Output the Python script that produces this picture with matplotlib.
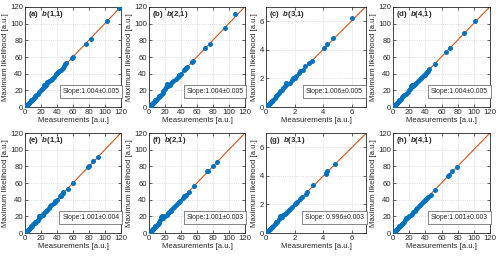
import matplotlib.pyplot as plt

# panel labels, fitted slopes and axis limits
labels = ["(a)", "(b)", "(c)", "(d)", "(e)", "(f)", "(g)", "(h)"]
bases = ["1,1", "2,1", "3,1", "4,1", "1,1", "2,1", "3,1", "4,1"]
slopes = [1.004, 1.004, 1.006, 1.004, 1.001, 1.001, 0.996, 1.001]
slope_texts = ["Slope:1.004\u00b10.005", "Slope:1.004\u00b10.005", "Slope:1.006\u00b10.005",
               "Slope:1.004\u00b10.005", "Slope:1.001\u00b10.004", "Slope:1.001\u00b10.003",
               "Slope: 0.996\u00b10.003", "Slope:1.001\u00b10.003"]
limits = [120, 120, 7, 120, 120, 120, 7, 120]

# measurements (x) and maximum likelihood estimates (y)
meas_a = [118, 103, 82, 76, 60, 59, 51, 50, 49, 48, 45, 43, 41, 40, 39, 36, 34, 32, 30, 28, 27, 26,
          25, 24, 23, 21, 20, 18, 16, 14, 13, 12, 11, 10, 9, 8, 7, 6, 5, 4.5, 4, 3.5, 3, 2.5, 2, 1.5,
          1, 0.5, 0]
ml_a = [119, 103, 81, 76, 60, 59, 53, 51, 49, 47, 44, 43, 42, 41, 40, 36, 34, 33, 31, 29, 30, 27,
        25, 26, 23, 22, 20, 18, 16, 15, 13, 12, 11, 10, 9, 8, 7, 6, 5, 4.5, 4, 3.5, 3, 2.5, 2, 1.5,
        1, 0.5, 0]
meas_b = [108, 95, 76, 70, 55, 54, 47, 46, 45, 44, 40, 38, 37, 36, 34, 30, 28, 26, 24, 23, 22, 21,
          20, 18, 17, 15, 13, 12, 10, 9, 8, 7, 6, 5, 4.5, 4, 3.5, 3, 2.5, 2, 1.5, 1, 0.5, 0]
ml_b = [111, 95, 76, 71, 55, 54, 48, 47, 45, 44, 40, 39, 37, 36, 34, 31, 29, 26, 25, 28, 27, 24,
        22, 19, 17, 15, 13, 12, 10, 9, 8, 7, 6, 5, 4.5, 4, 3.5, 3, 2.5, 2, 1.5, 1, 0.5, 0]
meas_c = [6.0, 4.7, 4.3, 4.05, 3.25, 3.0, 2.7, 2.6, 2.4, 2.3, 2.1, 2.0, 1.9, 1.8, 1.7, 1.5, 1.4,
          1.3, 1.2, 1.1, 1.0, 0.9, 0.8, 0.7, 0.6, 0.5, 0.45, 0.4, 0.35, 0.3, 0.25, 0.2, 0.15, 0.1,
          0.05, 0]
ml_c = [6.2, 4.8, 4.4, 4.15, 3.2, 3.1, 2.9, 2.6, 2.5, 2.4, 2.2, 2.05, 2.0, 1.9, 1.65, 1.6, 1.65,
        1.5, 1.3, 1.2, 1.1, 0.95, 0.85, 0.75, 0.65, 0.5, 0.45, 0.4, 0.35, 0.3, 0.25, 0.2, 0.15, 0.1,
        0.05, 0]
meas_d = [101, 88, 71, 66, 52, 44, 43, 42, 41, 40, 38, 36, 35, 34, 31, 29, 27, 26, 25, 23, 22, 21,
          20, 18, 16, 14, 12, 11, 10, 9, 8, 7, 6, 5, 4.5, 4, 3.5, 3, 2.5, 2, 1.5, 1, 0.5, 0]
ml_d = [103, 89, 71, 66, 51, 45, 43, 42, 41, 39, 38, 36, 35, 34, 31, 29, 28, 26, 25, 26, 25, 22,
        20, 18, 16, 14, 13, 12, 10, 9, 8, 7, 6, 5, 4.5, 4, 3.5, 3, 2.5, 2, 1.5, 1, 0.5, 0]
meas_e = [91, 85, 80, 79, 60, 54, 48, 47, 46, 45, 44, 40, 38, 37, 36, 33, 31, 30, 28, 26, 25, 23,
          22, 20, 18, 17, 16, 15, 13, 12, 10, 9, 8, 7, 6, 5, 4.5, 4, 3.5, 3, 2.5, 2, 1.5, 1, 0.5, 0]
ml_e = [91, 87, 80, 79, 60, 53, 49, 48, 47, 45, 44, 40, 38, 37, 36, 34, 32, 30, 28, 27, 25, 23,
        22, 20, 21, 18, 16, 15, 13, 12, 11, 9, 8, 7, 6, 5, 4.5, 4, 3.5, 3, 2.5, 2, 1.5, 1, 0.5, 0]
meas_f = [85, 80, 74, 73, 56, 50, 46, 45, 44, 42, 39, 37, 36, 34, 31, 29, 28, 27, 25, 24, 22, 20,
          18, 16, 15, 14, 13, 12, 11, 10, 9, 8, 7, 6, 5, 4.5, 4, 3.5, 3, 2.5, 2, 1.5, 1, 0.5, 0]
ml_f = [85, 81, 75, 74, 56, 49, 46, 45, 44, 42, 39, 37, 36, 34, 31, 29, 28, 27, 25, 24, 22, 20,
        18, 20, 19, 16, 13, 12, 11, 10, 9, 8, 7, 6, 5, 4.5, 4, 3.5, 3, 2.5, 2, 1.5, 1, 0.5, 0]
meas_g = [4.8, 4.25, 4.2, 4.2, 3.3, 2.9, 2.8, 2.5, 2.4, 2.2, 2.1, 2.0, 1.8, 1.7, 1.6, 1.5, 1.4,
          1.3, 1.2, 1.1, 1.0, 0.95, 0.9, 0.8, 0.7, 0.6, 0.5, 0.45, 0.4, 0.35, 0.3, 0.25, 0.2, 0.15,
          0.1, 0.05, 0]
ml_g = [4.8, 4.35, 4.2, 4.1, 3.35, 2.85, 2.75, 2.5, 2.4, 2.2, 2.1, 2.05, 1.8, 1.7, 1.6, 1.5, 1.4,
        1.35, 1.25, 1.1, 1.2, 1.1, 0.95, 0.8, 0.75, 0.6, 0.5, 0.45, 0.4, 0.35, 0.3, 0.25, 0.2, 0.15,
        0.1, 0.05, 0]
meas_h = [79, 73, 69, 68, 52, 47, 43, 42, 41, 40, 38, 37, 35, 34, 32, 30, 28, 27, 25, 23, 22, 20,
          19, 17, 16, 15, 13, 12, 11, 10, 9, 8, 7, 6, 5, 4.5, 4, 3.5, 3, 2.5, 2, 1.5, 1, 0.5, 0]
ml_h = [79, 75, 70, 68, 52, 46, 43, 42, 41, 40, 38, 37, 35, 34, 32, 30, 29, 27, 25, 23, 22, 20,
        19, 18, 18, 16, 13, 12, 11, 10, 9, 8, 7, 6, 5, 4.5, 4, 3.5, 3, 2.5, 2, 1.5, 1, 0.5, 0]

meas = [meas_a, meas_b, meas_c, meas_d, meas_e, meas_f, meas_g, meas_h]
ml = [ml_a, ml_b, ml_c, ml_d, ml_e, ml_f, ml_g, ml_h]

plt.rcParams["font.family"] = ["Liberation Sans", "DejaVu Sans"]
plt.rcParams["mathtext.fontset"] = "custom"
plt.rcParams["mathtext.bfit"] = "Liberation Sans:italic:bold"
plt.rcParams["mathtext.rm"] = "Liberation Sans"
plt.rcParams["mathtext.it"] = "Liberation Sans:italic"
plt.rcParams["mathtext.bf"] = "Liberation Sans:bold"

W, H = 500, 257
fig = plt.figure(figsize=(W / 100, H / 100), dpi=100)

# axes boxes in pixels: left, right ; rows: top, bottom
cols = [(25, 121), (149, 245), (266, 366), (393, 490)]
rows = [(7, 107), (133, 233)]

blue = "#0072BD"
red = "#D95319"
frame = "#262626"

for i in range(8):
    l, r = cols[i % 4]
    t, b = rows[i // 4]
    ax = fig.add_axes([l / W, (H - b) / H, (r - l) / W, (b - t) / H])
    lim = limits[i]
    ax.plot(meas[i], ml[i], "o", color=blue, markersize=3.6, markeredgewidth=0, zorder=3)
    ax.plot([0, lim], [0, slopes[i] * lim], "-", color=red, linewidth=0.8, zorder=2)
    ax.set_xlim(0, lim)
    ax.set_ylim(0, lim)
    if lim == 7:
        ticks = [0, 2, 4, 6]
    else:
        ticks = [0, 20, 40, 60, 80, 100, 120]
    ax.set_xticks(ticks)
    ax.set_yticks(ticks)
    ax.grid(True, linestyle=":", linewidth=0.5, color="#c8c8c8")
    ax.set_axisbelow(True)
    ax.tick_params(direction="in", length=2, width=0.5, labelsize=5.6, pad=1.5,
                   colors=frame, top=True, right=True)
    for s in ax.spines.values():
        s.set_linewidth(0.6)
        s.set_color(frame)
    ax.set_xlabel("Measurements [a.u.]", fontsize=5.6, labelpad=1, color=frame)
    ax.set_ylabel("Maximum likelihood [a.u.]", fontsize=5.6, labelpad=1, color=frame)
    ax.text(0.03, 0.925, labels[i] + "  $\\mathbfit{b}$(" + bases[i] + ")",
            transform=ax.transAxes, fontsize=5.6, fontweight="bold", ha="left", va="center",
            color=frame)
    ax.text(0.685, 0.155, slope_texts[i], transform=ax.transAxes, fontsize=4.9,
            ha="center", va="center", color=frame, zorder=5,
            bbox=dict(boxstyle="square,pad=0.4", facecolor="white", edgecolor="#555555",
                      linewidth=0.5))

fig.savefig("out.png", dpi=100)
